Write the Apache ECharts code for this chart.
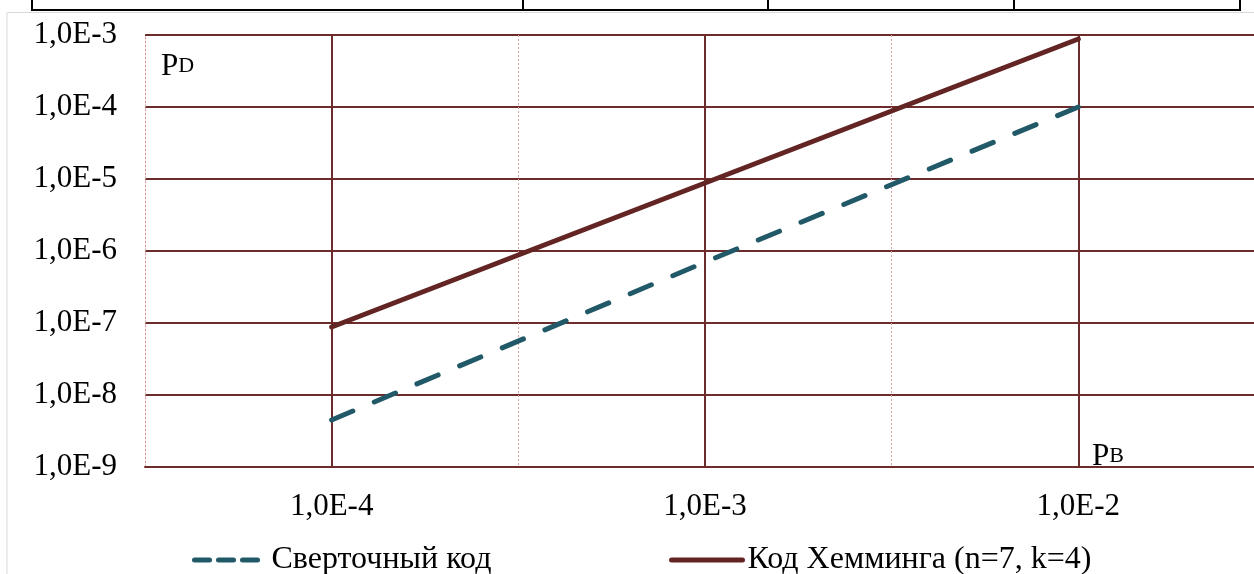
<!DOCTYPE html>
<html>
<head>
<meta charset="utf-8">
<script src="https://cdn.jsdelivr.net/npm/echarts@6/dist/echarts.min.js"></script>
<style>
  html, body { margin: 0; padding: 0; background: #fff; }
  #chart { width: 1254px; height: 574px; }
</style>
</head>
<body>
<div id="chart"></div>
<script>
// P_B values (x axis)
const pB = [1e-4, 1e-3, 1e-2];
// P_D values
const convValues = [4.5e-9, 7.0e-7, 1.0e-4];
const hammingValues = [8.8e-8, 8.8e-6, 8.8e-4];
const seriesNames = ["Сверточный код", "Код Хемминга (n=7, k=4)"];
// tick positions
const xTicks = [1e-4, 1e-3, 1e-2];
const xMinorTicks = [Math.pow(10, -3.5), Math.pow(10, -2.5)];

const font = "'Liberation Serif', 'Times New Roman', serif";
const majorColor = "#6e2b2b";
const minorColor = "#d9a0a0";
const convColor = "#215968";
const hammingColor = "#632523";

// 1,0E-3 style labels
function sciLabel(v) {
  const exp = Math.round(Math.log10(v));
  return "1,0E" + exp;
}

const richP = {
  a: { fontSize: 31, fontFamily: font, fontWeight: "normal", color: "#000" },
  b: { fontSize: 22, fontFamily: font, fontWeight: "normal", color: "#000" },
};

const myChart = echarts.init(document.getElementById("chart"));

myChart.setOption({
  animation: false,
  textStyle: { fontFamily: font },
  grid: { left: 145, top: 35, bottom: 107, width: 1120, outerBoundsMode: "none" },
  title: [
    {
      text: "{a|P}{b|D}",
      left: 156,
      top: 46,
      textStyle: { fontWeight: "normal", rich: richP },
    },
    {
      text: "{a|P}{b|B}",
      left: 1087,
      top: 436,
      textStyle: { fontWeight: "normal", rich: richP },
    },
  ],
  legend: [
    {
      left: 192,
      top: 544,
      padding: 0,
      itemWidth: 72,
      itemHeight: 14,
      itemStyle: { opacity: 0 },
      lineStyle: { width: 5, type: [15, 9], cap: "round" },
      data: [seriesNames[0]],
      textStyle: { fontSize: 32, fontFamily: font, color: "#000" },
    },
    {
      left: 669,
      top: 544,
      padding: 0,
      itemWidth: 71,
      itemHeight: 14,
      itemStyle: { opacity: 0 },
      lineStyle: { width: 5, cap: "round" },
      data: [seriesNames[1]],
      textStyle: { fontSize: 32, fontFamily: font, color: "#000" },
    },
  ],
  xAxis: [
    {
      type: "log",
      logBase: 10,
      min: Math.pow(10, -4.5),
      max: Math.pow(10, -1.5),
      axisLine: { show: true, lineStyle: { color: majorColor, width: 2 } },
      axisTick: { show: false, customValues: xTicks },
      axisLabel: {
        customValues: xTicks,
        formatter: sciLabel,
        fontSize: 31,
        fontFamily: font,
        color: "#000",
        margin: 24,
      },
      splitLine: { show: true, lineStyle: { color: majorColor, width: 2 } },
    },
    {
      type: "log",
      logBase: 10,
      min: Math.pow(10, -4.5),
      max: Math.pow(10, -1.5),
      position: "bottom",
      axisLine: { show: false },
      axisTick: { show: false, customValues: xMinorTicks },
      axisLabel: { show: false },
      splitLine: {
        show: true,
        lineStyle: { color: minorColor, width: 1, type: [2, 2] },
      },
    },
  ],
  yAxis: {
    type: "log",
    logBase: 10,
    min: 1e-9,
    max: 1e-3,
    interval: 1,
    axisLine: {
      show: true,
      lineStyle: { color: minorColor, width: 1, type: [2, 2] },
    },
    axisTick: { show: false },
    axisLabel: {
      formatter: sciLabel,
      fontSize: 31,
      fontFamily: font,
      color: "#000",
      margin: 28,
    },
    splitLine: { show: true, lineStyle: { color: majorColor, width: 2 } },
  },
  graphic: [
    // table border above the chart
    {
      type: "polyline",
      shape: { points: [[32, 0], [32, 10], [1240, 10], [1240, 0]] },
      style: { stroke: "#000", lineWidth: 2, fill: null },
    },
    { type: "line", shape: { x1: 523, y1: 0, x2: 523, y2: 10 }, style: { stroke: "#000", lineWidth: 2 } },
    { type: "line", shape: { x1: 768, y1: 0, x2: 768, y2: 10 }, style: { stroke: "#000", lineWidth: 2 } },
    { type: "line", shape: { x1: 1014, y1: 0, x2: 1014, y2: 10 }, style: { stroke: "#000", lineWidth: 2 } },
    // chart frame
    {
      type: "polyline",
      shape: { points: [[7, 574], [7, 12.5], [1254, 12.5]] },
      style: { stroke: "#d9d9d9", lineWidth: 1, fill: null },
    },
  ],
  series: [
    {
      name: seriesNames[0],
      type: "line",
      symbol: "none",
      data: pB.map((x, i) => [x, convValues[i]]),
      lineStyle: { color: convColor, width: 5, type: [23, 23.3], cap: "round" },
      itemStyle: { color: convColor },
      z: 3,
    },
    {
      name: seriesNames[1],
      type: "line",
      symbol: "none",
      data: pB.map((x, i) => [x, hammingValues[i]]),
      lineStyle: { color: hammingColor, width: 5, cap: "round" },
      itemStyle: { color: hammingColor },
      z: 4,
    },
  ],
});
</script>
</body>
</html>
